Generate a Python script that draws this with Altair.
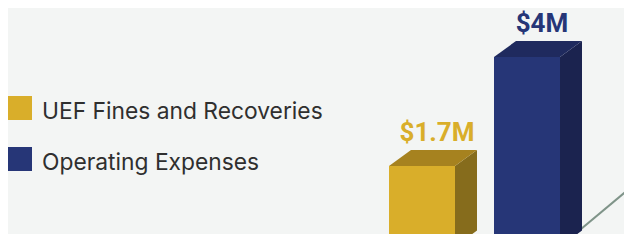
import altair as alt
import pandas as pd

# ---- data ----
categories = ["UEF Fines and Recoveries", "Operating Expenses"]
values = [1.7, 4.0]
labels = ["$1.7M", "$4M"]

# ---- styles ----
front_colors = ["#d9ae2a", "#263677"]
top_colors = ["#a6821f", "#1f2a5e"]
side_colors = ["#866c1c", "#1b234f"]
BG = "#f3f5f4"
FLOOR = "#7f9489"

# ---- layout ----
W, H = 616, 226
BASE_PX = 238.6            # pixel row of value 0 (just below visible area)
PX_PER_UNIT = 47.4
Y_MIN = (BASE_PX - H) / PX_PER_UNIT
Y_MAX = BASE_PX / PX_PER_UNIT
BAR_W = 66
DX = 22                      # depth, horizontal (px)
DY = 16 / PX_PER_UNIT        # depth, vertical (value units)
FIRST_LEFT = 381
STEP = 105
FLOOR_SLOPE = (56 / 67) / PX_PER_UNIT   # value units per px

x_scale = alt.Scale(domain=[0, W], nice=False, zero=False)
y_scale = alt.Scale(domain=[Y_MIN, Y_MAX], nice=False, zero=False)

bars = pd.DataFrame({"category": categories, "value": values, "label": labels})
bars["left"] = [FIRST_LEFT + STEP * i for i in range(len(bars))]
bars["right"] = bars["left"] + BAR_W

layers = []

# floor edge line starting at the front-right corner of the last bar
last_right = float(bars["right"].iloc[-1])
floor_df = pd.DataFrame({"x": [last_right, last_right + 120],
                         "y": [0.0, 120 * FLOOR_SLOPE]})
layers.append(
    alt.Chart(floor_df).mark_line(color=FLOOR, strokeWidth=2, clip=True).encode(
        x=alt.X("x:Q", scale=x_scale, axis=None),
        y=alt.Y("y:Q", scale=y_scale, axis=None),
    )
)

# front faces (with legend); square symbol nudged up relative to its label
layers.append(
    alt.Chart(bars).mark_rect(clip=True).encode(
        x=alt.X("left:Q", scale=x_scale, axis=None),
        x2="right:Q",
        y=alt.Y("value:Q", scale=y_scale, axis=None),
        y2=alt.datum(0),
        color=alt.Color(
            "category:N",
            scale=alt.Scale(domain=categories, range=front_colors),
            legend=alt.Legend(
                orient="none", legendX=0, legendY=92, title=None,
                symbolType="M-1,-1.333H1V0.667H-1Z", symbolSize=576,
                symbolStrokeWidth=0, symbolOpacity=1,
                labelFont="Inter", labelFontSize=22.8,
                labelColor="#2f2f2f", labelOffset=10, rowPadding=23,
                labelLimit=500, padding=0,
            ),
        ),
    )
)

for i, row in bars.iterrows():
    v = float(row["value"])
    l = float(row["left"])
    r = float(row["right"])
    side_df = pd.DataFrame({"x": [r, r + DX], "top": [v, v + DY], "bot": [0.0, DY]})
    layers.append(
        alt.Chart(side_df).mark_area(color=side_colors[i], clip=True).encode(
            x=alt.X("x:Q", scale=x_scale, axis=None),
            y=alt.Y("top:Q", scale=y_scale, axis=None),
            y2="bot:Q",
        )
    )
    top_df = pd.DataFrame({"y": [v, v + DY], "xa": [l, l + DX], "xb": [r, r + DX]})
    layers.append(
        alt.Chart(top_df).mark_area(color=top_colors[i], orient="horizontal", clip=True).encode(
            y=alt.Y("y:Q", scale=y_scale, axis=None),
            x=alt.X("xa:Q", scale=x_scale, axis=None),
            x2="xb:Q",
        )
    )
    lab_df = pd.DataFrame({"x": [(l + r) / 2 + DX / 2 + 4], "y": [v + DY], "t": [row["label"]]})
    layers.append(
        alt.Chart(lab_df).mark_text(
            font="Roboto", fontWeight="bold", fontSize=26, dy=-9,
            baseline="alphabetic", align="center", color=front_colors[i],
        ).encode(
            x=alt.X("x:Q", scale=x_scale, axis=None),
            y=alt.Y("y:Q", scale=y_scale, axis=None),
            text="t:N",
        )
    )

chart = alt.layer(*layers).properties(
    width=W, height=H, padding=0, autosize="none", background=BG
).configure_view(stroke=None)

chart.save("out.html", embed_options={"renderer": "svg", "actions": False})
